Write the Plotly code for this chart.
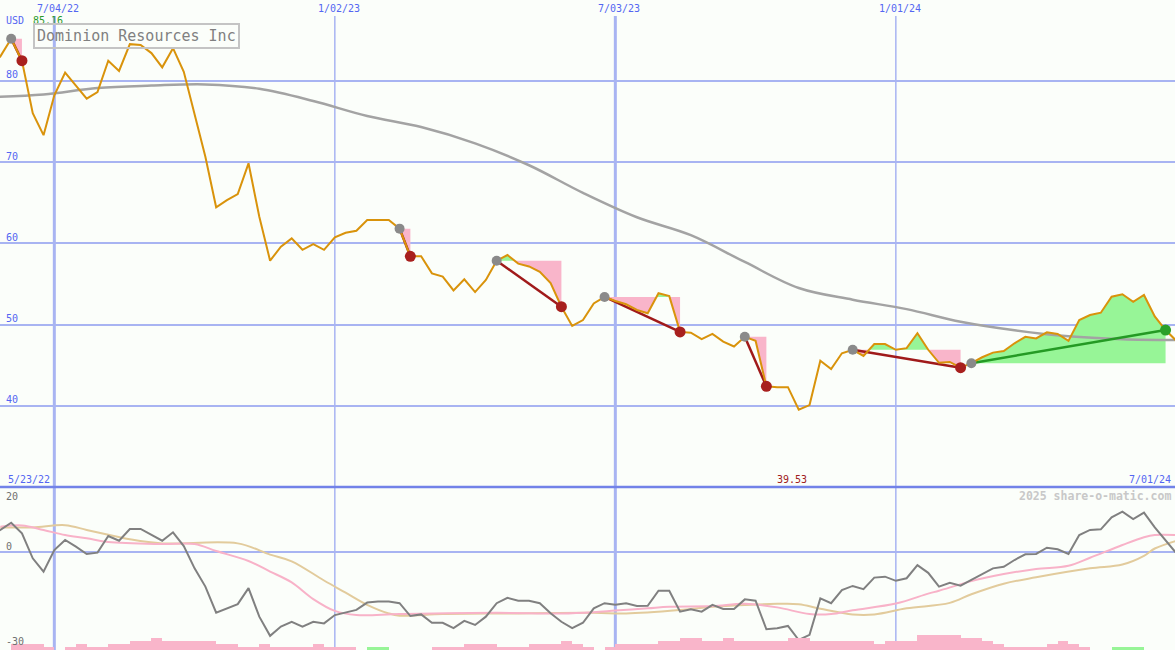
import numpy as np
import pandas as pd
import plotly.graph_objects as go

# ---------------- data (weekly, starting 5/23/22) ----------------
start_date = "2022-05-23"

price = [81.5, 83.0, 85.16, 82.46, 76.0, 73.3, 78.2, 81.0, 79.4, 77.8,
         78.6, 82.46, 81.2, 84.5, 84.4, 83.4, 81.65, 84.0, 81.1, 75.9,
         70.65, 64.43, 65.3, 66.06, 69.84, 63.27, 57.86, 59.58, 60.6, 59.2,
         59.9, 59.2, 60.74, 61.3, 61.55, 62.87, 62.87, 62.87, 61.8, 58.4,
         58.4, 56.3, 55.9, 54.2, 55.57, 54.0, 55.5, 57.86, 58.56, 57.5,
         57.15, 56.5, 55.1, 52.2, 49.83, 50.55, 52.6, 53.4, 52.9, 52.5,
         51.8, 51.4, 53.85, 53.5, 49.1, 49.0, 48.2, 48.85, 47.9, 47.3,
         48.5, 48.0, 42.4, 42.3, 42.3, 39.53, 40.1, 45.56, 44.54, 46.47,
         46.9, 46.14, 47.6, 47.6, 46.9, 47.1, 48.93, 46.9, 45.3, 45.4,
         44.7, 45.25, 45.98, 46.55, 46.75, 47.7, 48.5, 48.3, 49.05, 48.85,
         48.0, 50.56, 51.18, 51.46, 53.43, 53.73, 52.8, 53.64, 51.0, 49.33,
         48.0]

ma_weeks = [0, 5, 10, 15, 20, 25, 30, 35, 40, 45, 50, 55, 60, 65, 70, 75,
            80, 85, 90, 95, 100, 105, 110]
ma_vals = [78.0, 78.3, 79.1, 79.4, 79.55, 79.0, 77.5, 75.65, 74.3, 72.3,
           69.6, 66.2, 63.2, 61.0, 57.7, 54.5, 53.06, 51.9, 50.35, 49.3,
           48.55, 48.2, 48.1]

momentum = [5.0, 6.8, 9.06, 5.75, -2.06, -6.25, 0.53, 3.66, 1.56, -0.72,
            -0.3, 4.9, 3.44, 7.1, 7.1, 5.2, 3.44, 6.06, 1.78, -5.2,
            -10.9, -19.06, -17.7, -16.4, -11.4, -20.3, -26.3, -23.4, -21.9, -23.4,
            -21.9, -22.4, -19.8, -19.06, -18.2, -15.9, -15.6, -15.6, -16.1, -20.1,
            -19.6, -22.2, -22.2, -23.9, -21.6, -22.9, -20.3, -16.1, -14.4, -15.3,
            -15.3, -16.1, -19.25, -21.9, -23.9, -22.2, -17.7, -16.1, -16.6, -16.1,
            -16.97, -16.9, -12.2, -12.2, -18.75, -18.0, -18.75, -16.6, -17.9, -17.9,
            -14.9, -15.3, -24.25, -23.9, -23.2, -27.6, -26.0, -14.6, -16.1, -12.0,
            -10.7, -11.7, -8.1, -7.8, -9.1, -8.3, -4.2, -6.6, -10.9, -9.7,
            -10.6, -8.8, -7.0, -5.2, -4.7, -2.6, -0.8, -0.7, 1.25, 0.75,
            -0.7, 5.2, 6.8, 7.0, 10.75, 12.5, 10.2, 12.2, 7.6, 3.4,
            -0.5]

pink_weeks = [1, 3, 5, 7, 9, 11, 16, 19, 21, 24, 26, 28, 30, 32, 34, 38, 47,
              53, 56, 58, 61, 63, 67, 70, 73, 76, 78, 80, 84, 87, 88, 91, 94,
              97, 100, 102, 105, 107, 108, 110]
pink_vals = [7.8, 8.2, 6.8, 5.2, 4.2, 3.0, 2.4, 2.4, 0.2, -2.9, -6.2, -9.6,
             -14.8, -18.5, -19.8, -19.5, -19.1, -19.3, -18.9, -18.4, -17.7,
             -17.2, -17.0, -16.3, -17.4, -19.5, -19.5, -18.3, -16.2, -13.1,
             -12.2, -9.2, -7.0, -5.4, -4.4, -1.9, 2.1, 4.5, 5.2, 5.2]

tan_weeks = [1, 4, 7, 9, 11, 13, 16, 23, 26, 28, 31, 33, 35, 37, 38, 42, 48,
             56, 59, 64, 67, 73, 75, 77, 80, 82, 85, 89, 91, 94, 97, 102, 105,
             107, 108, 110]
tan_vals = [7.6, 7.6, 8.3, 6.8, 5.3, 3.9, 2.6, 2.6, -0.9, -3.0, -9.0, -12.8,
            -16.6, -19.3, -20.0, -19.5, -19.3, -19.1, -19.3, -18.2, -17.2,
            -16.3, -16.4, -17.8, -19.6, -19.6, -17.7, -16.0, -13.3, -10.0,
            -8.0, -5.2, -4.0, -1.3, 1.0, 3.4]

# histogram levels per week (positive = pink, negative = green)
bar_levels = [0, 0, 2, 2, 2, 1, 0, 1, 2, 1,
              1, 2, 2, 3, 3, 4, 3, 3, 3, 3,
              3, 2, 2, 1, 1, 2, 1, 1, 1, 1,
              2, 1, 1, 1, 0, -1, -1, 0, 0, 0,
              0, 1, 1, 1, 2, 2, 2, 1, 1, 1,
              2, 2, 2, 3, 2, 1, 0, 1, 2, 2,
              2, 2, 3, 3, 4, 4, 3, 3, 4, 3,
              3, 3, 3, 3, 4, 4, 3, 3, 3, 3,
              3, 3, 2, 3, 3, 3, 5, 5, 5, 5,
              4, 4, 3, 2, 1, 1, 1, 1, 2, 3,
              2, 1, 0, 0, -1, -1, -1, 0, 0, 0,
              0]

trade_entries = [2, 38, 47, 57, 70, 80, 91]
trade_exits = [3, 39, 53, 64, 72, 90, 109]

tick_dates = ["2022-07-04", "2023-01-02", "2023-07-03", "2024-01-01"]
tick_labels = ["7/04/22", "1/02/23", "7/03/23", "1/01/24"]
y_ticks = [40, 50, 60, 70, 80]
company = "Dominion Resources Inc"
max_label = "85.16"
min_label = "39.53"
first_label = "5/23/22"
last_label = "7/01/24"

# ---------------- helpers ----------------
W, H = 1175, 650
t0 = pd.Timestamp(start_date)
DAY_MS = 86400000


def wk(t):
    return t0 + pd.Timedelta(days=7 * float(t))


def py(pix):
    return 1 - pix / H


dates = [wk(i) for i in range(len(price))]

BG = "#fbfefa"
GRID = "#a8b4f2"
BLUE_TXT = "#5466f2"
PINK = "#f9b5ca"
GREEN = "#97f597"
FONT = "DejaVu Sans Mono"

main_dom = [py(487), 1.0]
low_dom = [0.0, py(487)]
main_range = [30.02, 89.93]
low_range = [-30.72, 20.22]

fig = go.Figure()


def fill_poly(e, x, above):
    L = price[e]
    ts, ys = [], []
    for i in range(e, x + 1):
        p = price[i]
        ts.append(i)
        ys.append(max(p, L) if above else min(p, L))
        if i < x:
            q = price[i + 1]
            if (p - L) * (q - L) < 0:
                ts.append(i + (L - p) / (q - p))
                ys.append(L)
    ts += [x, e]
    ys += [L, L]
    return [wk(t) for t in ts], ys


# trade fills
for e, x in zip(trade_entries, trade_exits):
    for above, col in ((False, PINK), (True, GREEN)):
        xs, ys = fill_poly(e, x, above)
        fig.add_trace(go.Scatter(x=xs, y=ys, mode="lines", fill="toself",
                                 fillcolor=col, line=dict(width=0),
                                 hoverinfo="skip", yaxis="y"))

# moving average
fig.add_trace(go.Scatter(x=[wk(w) for w in ma_weeks], y=ma_vals, mode="lines",
                         line=dict(color="#a3a3a3", width=2.5, shape="spline"),
                         yaxis="y"))

# trade lines
for e, x in zip(trade_entries, trade_exits):
    win = price[x] > price[e]
    fig.add_trace(go.Scatter(x=[dates[e], dates[x]], y=[price[e], price[x]],
                             mode="lines",
                             line=dict(color="#249a24" if win else "#a01a1a",
                                       width=2.5),
                             yaxis="y"))

# price line
fig.add_trace(go.Scatter(x=dates, y=price, mode="lines",
                         line=dict(color="#d9930b", width=2), yaxis="y"))

# trade markers
for e, x in zip(trade_entries, trade_exits):
    win = price[x] > price[e]
    fig.add_trace(go.Scatter(x=[dates[x]], y=[price[x]], mode="markers",
                             marker=dict(size=11,
                                         color="#2aa02a" if win else "#a8201e"),
                             yaxis="y"))
    fig.add_trace(go.Scatter(x=[dates[e]], y=[price[e]], mode="markers",
                             marker=dict(size=10, color="#8a8a8a"),
                             yaxis="y"))

# lower panel histogram
bx, by, bc = [], [], []
for i, lv in enumerate(bar_levels):
    if lv != 0:
        bx.append(wk(i + 0.5))
        by.append(abs(lv))
        bc.append(PINK if lv > 0 else GREEN)
fig.add_trace(go.Bar(x=bx, y=by, width=7 * DAY_MS, marker=dict(color=bc, line=dict(width=0)),
                     yaxis="y3", hoverinfo="skip"))

# lower panel lines
fig.add_trace(go.Scatter(x=[wk(w) for w in tan_weeks], y=tan_vals, mode="lines",
                         line=dict(color="#e2cb9c", width=2, shape="spline"),
                         yaxis="y2"))
fig.add_trace(go.Scatter(x=[wk(w) for w in pink_weeks], y=pink_vals, mode="lines",
                         line=dict(color="#f8b2c8", width=2, shape="spline"),
                         yaxis="y2"))
fig.add_trace(go.Scatter(x=dates, y=momentum, mode="lines",
                         line=dict(color="#808080", width=2), yaxis="y2"))

# vertical grid lines
shapes = []
for k, d in enumerate(tick_dates):
    shapes.append(dict(type="line", xref="x", yref="paper", x0=d, x1=d,
                       y0=0, y1=py(16), layer="below",
                       line=dict(color=GRID, width=3 if k % 2 == 0 else 1.5)))
# separator between panels
shapes.append(dict(type="line", xref="paper", yref="paper", x0=0, x1=1,
                   y0=py(487), y1=py(487), layer="below",
                   line=dict(color="#7282e8", width=2.5)))

ann = []
for d, lab in zip(tick_dates, tick_labels):
    ann.append(dict(x=d, y=py(8.5), xref="x", yref="paper", text=lab,
                    showarrow=False, xanchor="center", yanchor="middle",
                    xshift=4, font=dict(family=FONT, size=10, color=BLUE_TXT)))
for v in y_ticks:
    ann.append(dict(x=0, y=v, xref="paper", yref="y", text=str(v),
                    showarrow=False, xanchor="left", yanchor="middle",
                    xshift=4, yshift=6,
                    font=dict(family=FONT, size=10, color=BLUE_TXT)))
ann.append(dict(x=0, y=py(21), xref="paper", yref="paper", text="USD",
                showarrow=False, xanchor="left", yanchor="middle", xshift=4,
                font=dict(family=FONT, size=10, color=BLUE_TXT)))
ann.append(dict(x=0, y=py(21), xref="paper", yref="paper", text=max_label,
                showarrow=False, xanchor="left", yanchor="middle", xshift=31,
                font=dict(family=FONT, size=10, color="#2a9a2a")))
ann.append(dict(x=0, y=py(36), xref="paper", yref="paper", text=company,
                showarrow=False, xanchor="left", yanchor="middle", xshift=33,
                bordercolor="#c4c4c4", borderwidth=2, borderpad=2,
                font=dict(family=FONT, size=15, color="#808080")))
ann.append(dict(x=0, y=py(479.3), xref="paper", yref="paper", text=first_label,
                showarrow=False, xanchor="left", yanchor="middle", xshift=6,
                font=dict(family=FONT, size=10, color=BLUE_TXT)))
ann.append(dict(x=1, y=py(479.3), xref="paper", yref="paper", text=last_label,
                showarrow=False, xanchor="right", yanchor="middle", xshift=-2,
                font=dict(family=FONT, size=10, color=BLUE_TXT)))
imin = int(np.argmin(price))
ann.append(dict(x=dates[imin], y=py(479.3), xref="x", yref="paper", text=min_label,
                showarrow=False, xanchor="center", yanchor="middle", xshift=-7,
                font=dict(family=FONT, size=10, color="#a02020")))
ann.append(dict(x=1, y=py(496), xref="paper", yref="paper",
                text="<b>2025 share-o-matic.com</b>",
                showarrow=False, xanchor="right", yanchor="middle", xshift=-2,
                font=dict(family=FONT, size=11.5, color="#c8c8c8")))
for lab, pix in (("20", 496), ("0", 546.3), ("-30", 641.7)):
    ann.append(dict(x=0, y=py(pix), xref="paper", yref="paper", text=lab,
                    showarrow=False, xanchor="left", yanchor="middle", xshift=4,
                    font=dict(family=FONT, size=10, color="#707070")))

fig.update_layout(
    width=W, height=H,
    margin=dict(l=0, r=0, t=0, b=0, pad=0),
    paper_bgcolor=BG, plot_bgcolor=BG,
    showlegend=False,
    bargap=0,
    xaxis=dict(type="date", range=["2022-05-29 18:00", "2024-06-30 03:00"],
               showgrid=False, showticklabels=False, zeroline=False,
               showline=False, ticks=""),
    yaxis=dict(domain=main_dom, range=main_range, tickvals=y_ticks,
               showticklabels=False, gridcolor=GRID, gridwidth=2,
               zeroline=False, showline=False, ticks=""),
    yaxis2=dict(domain=low_dom, range=low_range, tickvals=[0],
                showticklabels=False, gridcolor=GRID, gridwidth=2,
                zeroline=False, showline=False, ticks=""),
    yaxis3=dict(overlaying="y2", range=[0, 54.3], visible=False,
                showgrid=False, zeroline=False),
    shapes=shapes,
    annotations=ann,
    hovermode=False,
)

fig.write_html(
    "out.html",
    config={"displayModeBar": False},
    post_script="document.body.style.margin='0';document.body.style.padding='0';"
                "document.body.style.background='" + BG + "';",
)
